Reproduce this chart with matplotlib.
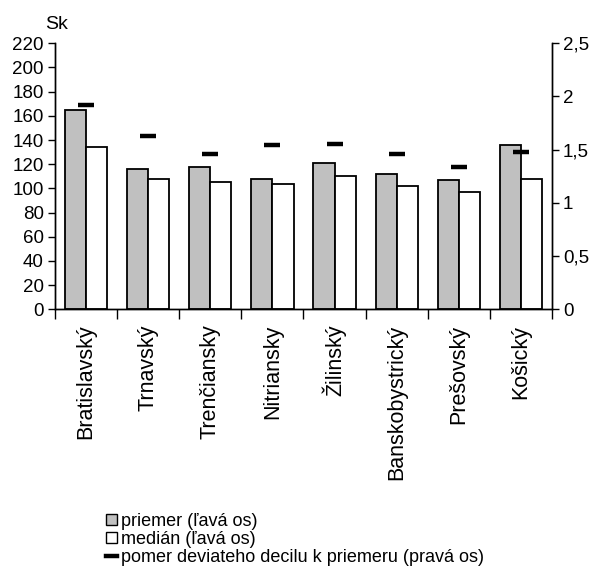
import numpy as np
import matplotlib.pyplot as plt
from matplotlib.patches import Patch
from matplotlib.lines import Line2D

regions = ['Bratislavský', 'Trnavský', 'Trenčiansky', 'Nitriansky',
           'Žilinský', 'Banskobystrický', 'Prešovský', 'Košický']
priemer = [165, 116, 118, 108, 121, 112, 107, 136]
median = [134, 108, 105, 104, 110, 102, 97, 108]
pomer_d9 = [1.92, 1.63, 1.46, 1.54, 1.55, 1.46, 1.34, 1.48]

left_ticks = list(range(0, 221, 20))
right_ticks = [0, 0.5, 1, 1.5, 2, 2.5]
right_labels = ['0', '0,5', '1', '1,5', '2', '2,5']

plt.rcParams['font.family'] = ['Liberation Sans', 'DejaVu Sans']


def main():
    fig = plt.figure(figsize=(5.9, 5.68), dpi=100)
    ax = fig.add_axes([0.0932, 0.4555, 0.8424, 0.4683])
    ax2 = ax.twinx()

    x = np.arange(len(regions)) + 0.5
    w = 0.34
    ax.bar(x - w / 2, priemer, w, color='#c0c0c0', edgecolor='black', linewidth=1.3, zorder=2)
    ax.bar(x + w / 2, median, w, color='white', edgecolor='black', linewidth=1.3, zorder=2)
    ax2.plot(x, pomer_d9, linestyle='none', marker='_', markersize=11.5,
             markeredgewidth=3.2, color='black')

    ax.set_xlim(0, len(regions))
    ax.set_ylim(0, 220)
    ax2.set_ylim(0, 2.5)

    ax.set_yticks(left_ticks)
    ax.set_yticklabels([str(t) for t in left_ticks])
    ax2.set_yticks(right_ticks)
    ax2.set_yticklabels(right_labels)

    ax.set_xticks(np.arange(len(regions) + 1))
    ax.set_xticklabels([])
    ax.set_xticks(x, minor=True)
    ax.set_xticklabels(regions, minor=True, rotation=90, va='top', ha='center', fontsize=15.5)
    ax.tick_params(axis='x', which='major', direction='out', length=7, width=1)
    ax.tick_params(axis='x', which='minor', length=0, pad=11)
    ax.tick_params(axis='y', direction='out', length=5, width=1, labelsize=13.5, pad=3)
    ax2.tick_params(axis='y', direction='out', length=5, width=1, labelsize=13.5, pad=3)

    for a in (ax, ax2):
        a.spines['top'].set_visible(False)
        for s in a.spines.values():
            s.set_linewidth(1)

    fig.text(0.077, 0.942, 'Sk', fontsize=14, ha='left', va='bottom')

    handles = [
        Patch(facecolor='#c0c0c0', edgecolor='black', linewidth=1),
        Patch(facecolor='white', edgecolor='black', linewidth=1),
        Line2D([0], [0], color='black', linewidth=3.2),
    ]
    labels = ['priemer (ľavá os)', 'medián (ľavá os)',
              'pomer deviateho decilu k priemeru (pravá os)']
    leg = fig.legend(handles, labels, loc='lower left', bbox_to_anchor=(0.177, 0.0),
                     frameon=True, fontsize=13, handlelength=0.6, handleheight=0.6,
                     handletextpad=0.2, labelspacing=0.06, borderpad=0.1,
                     borderaxespad=0.0)
    leg.get_frame().set_edgecolor('white')
    leg.get_frame().set_facecolor('white')
    leg.get_frame().set_alpha(1)

    fig.savefig('out.png', dpi=100)


if __name__ == '__main__':
    main()
